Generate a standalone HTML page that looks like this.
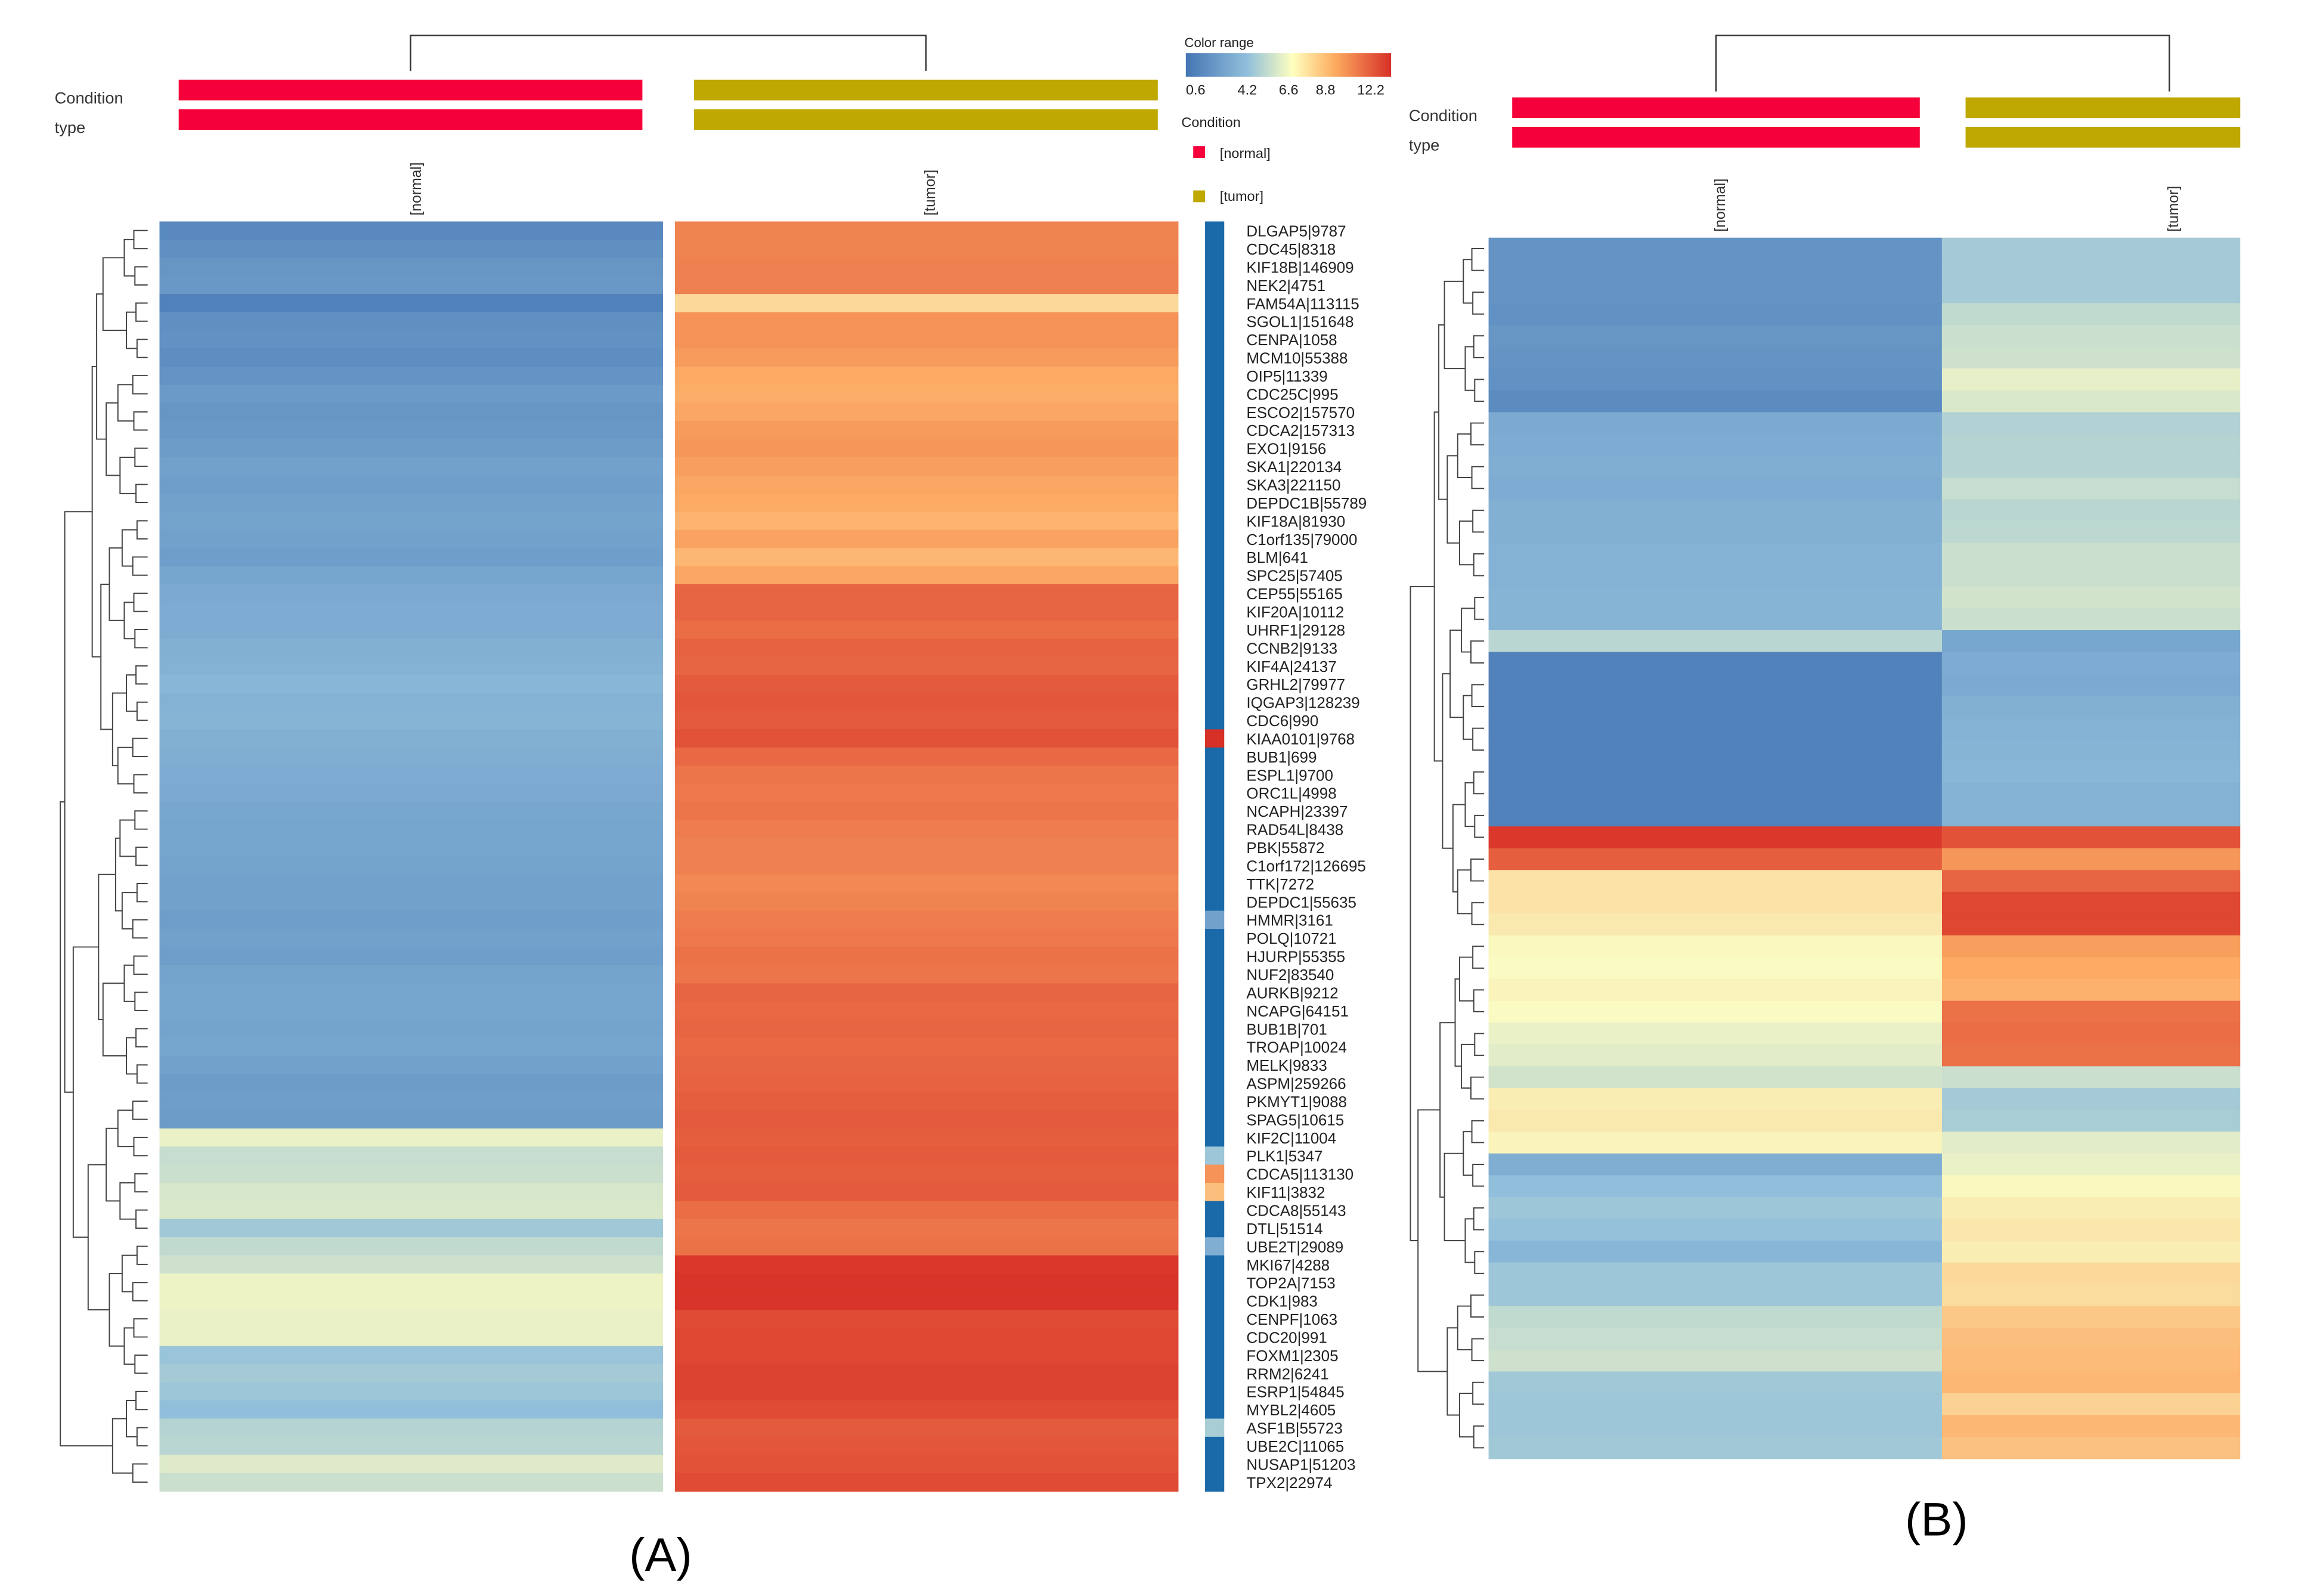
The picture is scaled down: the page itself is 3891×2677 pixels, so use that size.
<!DOCTYPE html>
<html><head><meta charset="utf-8"><style>
html,body{margin:0;padding:0;background:#fff}
svg{display:block}
text{font-family:"Liberation Sans",sans-serif}
</style></head><body>
<svg id="fig" width="3891" height="2677" viewBox="0 0 1571 1081" preserveAspectRatio="none" xmlns="http://www.w3.org/2000/svg">
<rect width="1600" height="1100" fill="#fff"/>
<g id="A"></g>
<g id="B"></g>
<path d="M278,48V24H627V48" fill="none" stroke="#333" stroke-width="1"/>
<text x="37" y="70" font-size="11" fill="#333">Condition</text>
<text x="37" y="90" font-size="11" fill="#333">type</text>
<rect x="121" y="54" width="314" height="14" fill="#f5003a"/>
<rect x="121" y="74" width="314" height="14" fill="#f5003a"/>
<rect x="470" y="54" width="314" height="14" fill="#bfa800"/>
<rect x="470" y="74" width="314" height="14" fill="#bfa800"/>
<text transform="translate(285,146) rotate(-90)" font-size="10" fill="#333">[normal]</text>
<text transform="translate(633,146) rotate(-90)" font-size="10" fill="#333">[tumor]</text>
<g>
<text x="802" y="32" font-size="9" fill="#222">Color range</text>
<defs><linearGradient id="gr" x1="0" x2="1"><stop offset="0" stop-color="#4575b4"/><stop offset="0.3" stop-color="#91bfdb"/><stop offset="0.52" stop-color="#ffffbf"/><stop offset="0.72" stop-color="#fdae61"/><stop offset="1" stop-color="#d73027"/></linearGradient></defs>
<rect x="803" y="36" width="139" height="16" fill="url(#gr)"/>
<text x="803" y="64" font-size="9.5" fill="#222">0.6</text>
<text x="838" y="64" font-size="9.5" fill="#222">4.2</text>
<text x="866" y="64" font-size="9.5" fill="#222">6.6</text>
<text x="891" y="64" font-size="9.5" fill="#222">8.8</text>
<text x="919" y="64" font-size="9.5" fill="#222">12.2</text>
<text x="800" y="86" font-size="9.5" fill="#222">Condition</text>
<rect x="808" y="99" width="8" height="8" fill="#f5003a"/>
<text x="826" y="107" font-size="9.5" fill="#222">[normal]</text>
<rect x="808" y="129" width="8" height="8" fill="#bfa800"/>
<text x="826" y="136" font-size="9.5" fill="#222">[tumor]</text>
</g>
<path d="M1162,62V24H1469V62" fill="none" stroke="#333" stroke-width="1"/>
<text x="954" y="82" font-size="11" fill="#333">Condition</text>
<text x="954" y="102" font-size="11" fill="#333">type</text>
<rect x="1024" y="66" width="276" height="14" fill="#f5003a"/>
<rect x="1024" y="86" width="276" height="14" fill="#f5003a"/>
<rect x="1331" y="66" width="186" height="14" fill="#bfa800"/>
<rect x="1331" y="86" width="186" height="14" fill="#bfa800"/>
<text transform="translate(1168,157) rotate(-90)" font-size="10" fill="#333">[normal]</text>
<text transform="translate(1475,157) rotate(-90)" font-size="10" fill="#333">[tumor]</text>
<text x="426" y="1064" font-size="32" fill="#000">(A)</text>
<text x="1290" y="1040" font-size="32" fill="#000">(B)</text>
</svg>
<script>
const genesA = ["DLGAP5|9787","CDC45|8318","KIF18B|146909","NEK2|4751","FAM54A|113115","SGOL1|151648","CENPA|1058","MCM10|55388","OIP5|11339","CDC25C|995","ESCO2|157570","CDCA2|157313","EXO1|9156","SKA1|220134","SKA3|221150","DEPDC1B|55789","KIF18A|81930","C1orf135|79000","BLM|641","SPC25|57405","CEP55|55165","KIF20A|10112","UHRF1|29128","CCNB2|9133","KIF4A|24137","GRHL2|79977","IQGAP3|128239","CDC6|990","KIAA0101|9768","BUB1|699","ESPL1|9700","ORC1L|4998","NCAPH|23397","RAD54L|8438","PBK|55872","C1orf172|126695","TTK|7272","DEPDC1|55635","HMMR|3161","POLQ|10721","HJURP|55355","NUF2|83540","AURKB|9212","NCAPG|64151","BUB1B|701","TROAP|10024","MELK|9833","ASPM|259266","PKMYT1|9088","SPAG5|10615","KIF2C|11004","PLK1|5347","CDCA5|113130","KIF11|3832","CDCA8|55143","DTL|51514","UBE2T|29089","MKI67|4288","TOP2A|7153","CDK1|983","CENPF|1063","CDC20|991","FOXM1|2305","RRM2|6241","ESRP1|54845","MYBL2|4605","ASF1B|55723","UBE2C|11065","NUSAP1|51203","TPX2|22974"];
const normalA = [1.5,1.8,2.1,2.2,1.2,1.8,1.9,1.7,2.0,2.3,2.1,2.2,2.4,2.6,2.5,2.6,2.7,2.6,2.5,2.8,3.0,3.1,3.1,3.3,3.4,3.6,3.4,3.5,3.3,3.2,3.1,3.0,2.9,2.8,2.8,2.7,2.6,2.6,2.5,2.6,2.5,2.7,2.8,2.8,2.7,2.8,2.6,2.4,2.5,2.4,6.2,5.3,5.4,5.7,5.8,4.4,5.2,5.5,6.3,6.3,6.2,6.2,4.2,4.5,4.3,4.0,4.9,5.0,5.9,5.4];
const tumorA = [10.0,10.0,10.1,10.1,7.6,9.6,9.6,9.4,9.0,8.9,9.1,9.4,9.5,9.3,9.1,9.0,8.7,9.2,8.6,9.1,10.8,10.8,10.6,10.9,10.8,11.1,11.2,11.1,11.3,10.7,10.4,10.3,10.4,10.2,10.1,10.1,9.9,10.0,10.2,10.3,10.5,10.4,10.8,10.7,10.8,10.7,10.8,10.9,11.0,11.1,11.0,11.1,11.0,11.1,10.6,10.4,10.5,12.0,12.1,12.1,11.5,11.6,11.6,11.7,11.7,11.5,11.1,11.2,11.3,11.5];
const sideA = [1,1,1,1,1,1,1,1,1,1,1,1,1,1,1,1,1,1,1,1,1,1,1,1,1,1,1,1,12.5,1,1,1,1,1,1,1,1,1,2.6,1,1,1,1,1,1,1,1,1,1,1,1,4.3,9.6,8.4,1,1,3.2,1,1,1,1,1,1,1,1,1,4.6,1,1,1];
const normalB = [2.0,2.0,2.0,1.9,2.1,2.0,1.9,1.6,3.0,3.1,3.2,3.1,3.3,3.3,3.4,3.4,3.5,3.5,5.0,1.2,1.2,1.2,1.2,1.2,1.2,1.2,1.2,12.0,11.0,7.3,7.3,7.1,6.7,6.6,6.8,6.6,6.2,6.0,5.6,7.0,7.1,6.8,3.2,4.0,4.3,4.1,3.6,4.3,4.3,5.2,5.3,5.5,4.4,4.3,4.3,4.4];
const tumorB = [4.5,4.5,4.5,5.2,5.4,5.5,6.1,5.8,4.8,4.9,4.9,5.3,5.0,5.1,5.4,5.4,5.6,5.4,2.9,3.1,3.0,3.3,3.4,3.5,3.6,3.4,3.4,11.3,9.5,10.8,11.6,11.6,9.3,9.0,8.8,10.5,10.6,10.5,5.4,4.5,4.6,6.0,6.2,6.7,7.0,7.2,7.0,7.6,7.5,8.1,8.4,8.5,8.6,7.8,8.6,8.3];

const NS="http://www.w3.org/2000/svg";
const stops=[[0.6,[69,117,180]],[4.0,[145,191,219]],[6.6,[250,250,195]],[9.0,[252,170,100]],[12.2,[215,48,39]]];
function col(v){
  if(v<=stops[0][0]) return "rgb("+stops[0][1]+")";
  for(let i=1;i<stops.length;i++){
    if(v<=stops[i][0]){const a=stops[i-1],b=stops[i],t=(v-a[0])/(b[0]-a[0]);
      return "rgb("+a[1].map((c,k)=>Math.round(c+(b[1][k]-c)*t)).join(",")+")";}
  }
  return "rgb("+stops[stops.length-1][1]+")";
}
function el(tag,attrs,parent){const e=document.createElementNS(NS,tag);for(const k in attrs)e.setAttribute(k,attrs[k]);parent.appendChild(e);return e;}
function yScale(top,bottom,n){return i=>top+(bottom-top)*i/n;}

function dendro(g,n,y,leafX,depthX,name){
  let nodes=[];for(let i=0;i<n;i++)nodes.push({y:y(i+0.5),x:leafX});
  let level=1;
  while(nodes.length>1){
    const next=[];
    for(let i=0;i<nodes.length;i+=2){
      if(i+1<nodes.length){
        const a=nodes[i],b=nodes[i+1];
        const x=leafX-depthX*level*(0.8+0.4*((i*7+level*3)%5)/5);
        const xx=Math.min(x,a.x-3,b.x-3);
        const p=el("path",{d:`M${a.x},${a.y}H${xx}V${b.y}H${b.x}`,fill:"none",stroke:"#444","stroke-width":0.8},g);
        
        
        next.push({x:xx,y:(a.y+b.y)/2});
      } else next.push(nodes[i]);
    }
    nodes=next;level++;
  }
}

(function(){
  const g=document.getElementById("A");
  const n=genesA.length,y=yScale(150,1010,n);
  for(let i=0;i<n;i++){
    const h=y(i+1)-y(i)+0.3;
    const r1=el("rect",{x:108,y:y(i),width:341,height:h,fill:col(normalA[i])},g);
    
    
    const r2=el("rect",{x:457,y:y(i),width:341,height:h,fill:col(tumorA[i])},g);
    
    
    const r3=el("rect",{x:816,y:y(i),width:13,height:h,fill:sideA[i]<=1?"#1a6aaa":col(sideA[i])},g);
    
    
    const t=el("text",{x:844,y:y(i+0.5)+4,"font-size":10.5,fill:"#222"},g);
    t.textContent=genesA[i];
    
    
  }
  dendro(g,n,y,100,9,"row-dendrogram-a");
})();

(function(){
  const g=document.getElementById("B");
  const n=normalB.length,y=yScale(161,988,n);
  for(let i=0;i<n;i++){
    const h=y(i+1)-y(i)+0.3;
    const r1=el("rect",{x:1008,y:y(i),width:307,height:h,fill:col(normalB[i])},g);
    
    
    const r2=el("rect",{x:1315,y:y(i),width:202,height:h,fill:col(tumorB[i])},g);
    
    
  }
  dendro(g,n,y,1005,8,"row-dendrogram-b");
})();
</script>
</body></html>
